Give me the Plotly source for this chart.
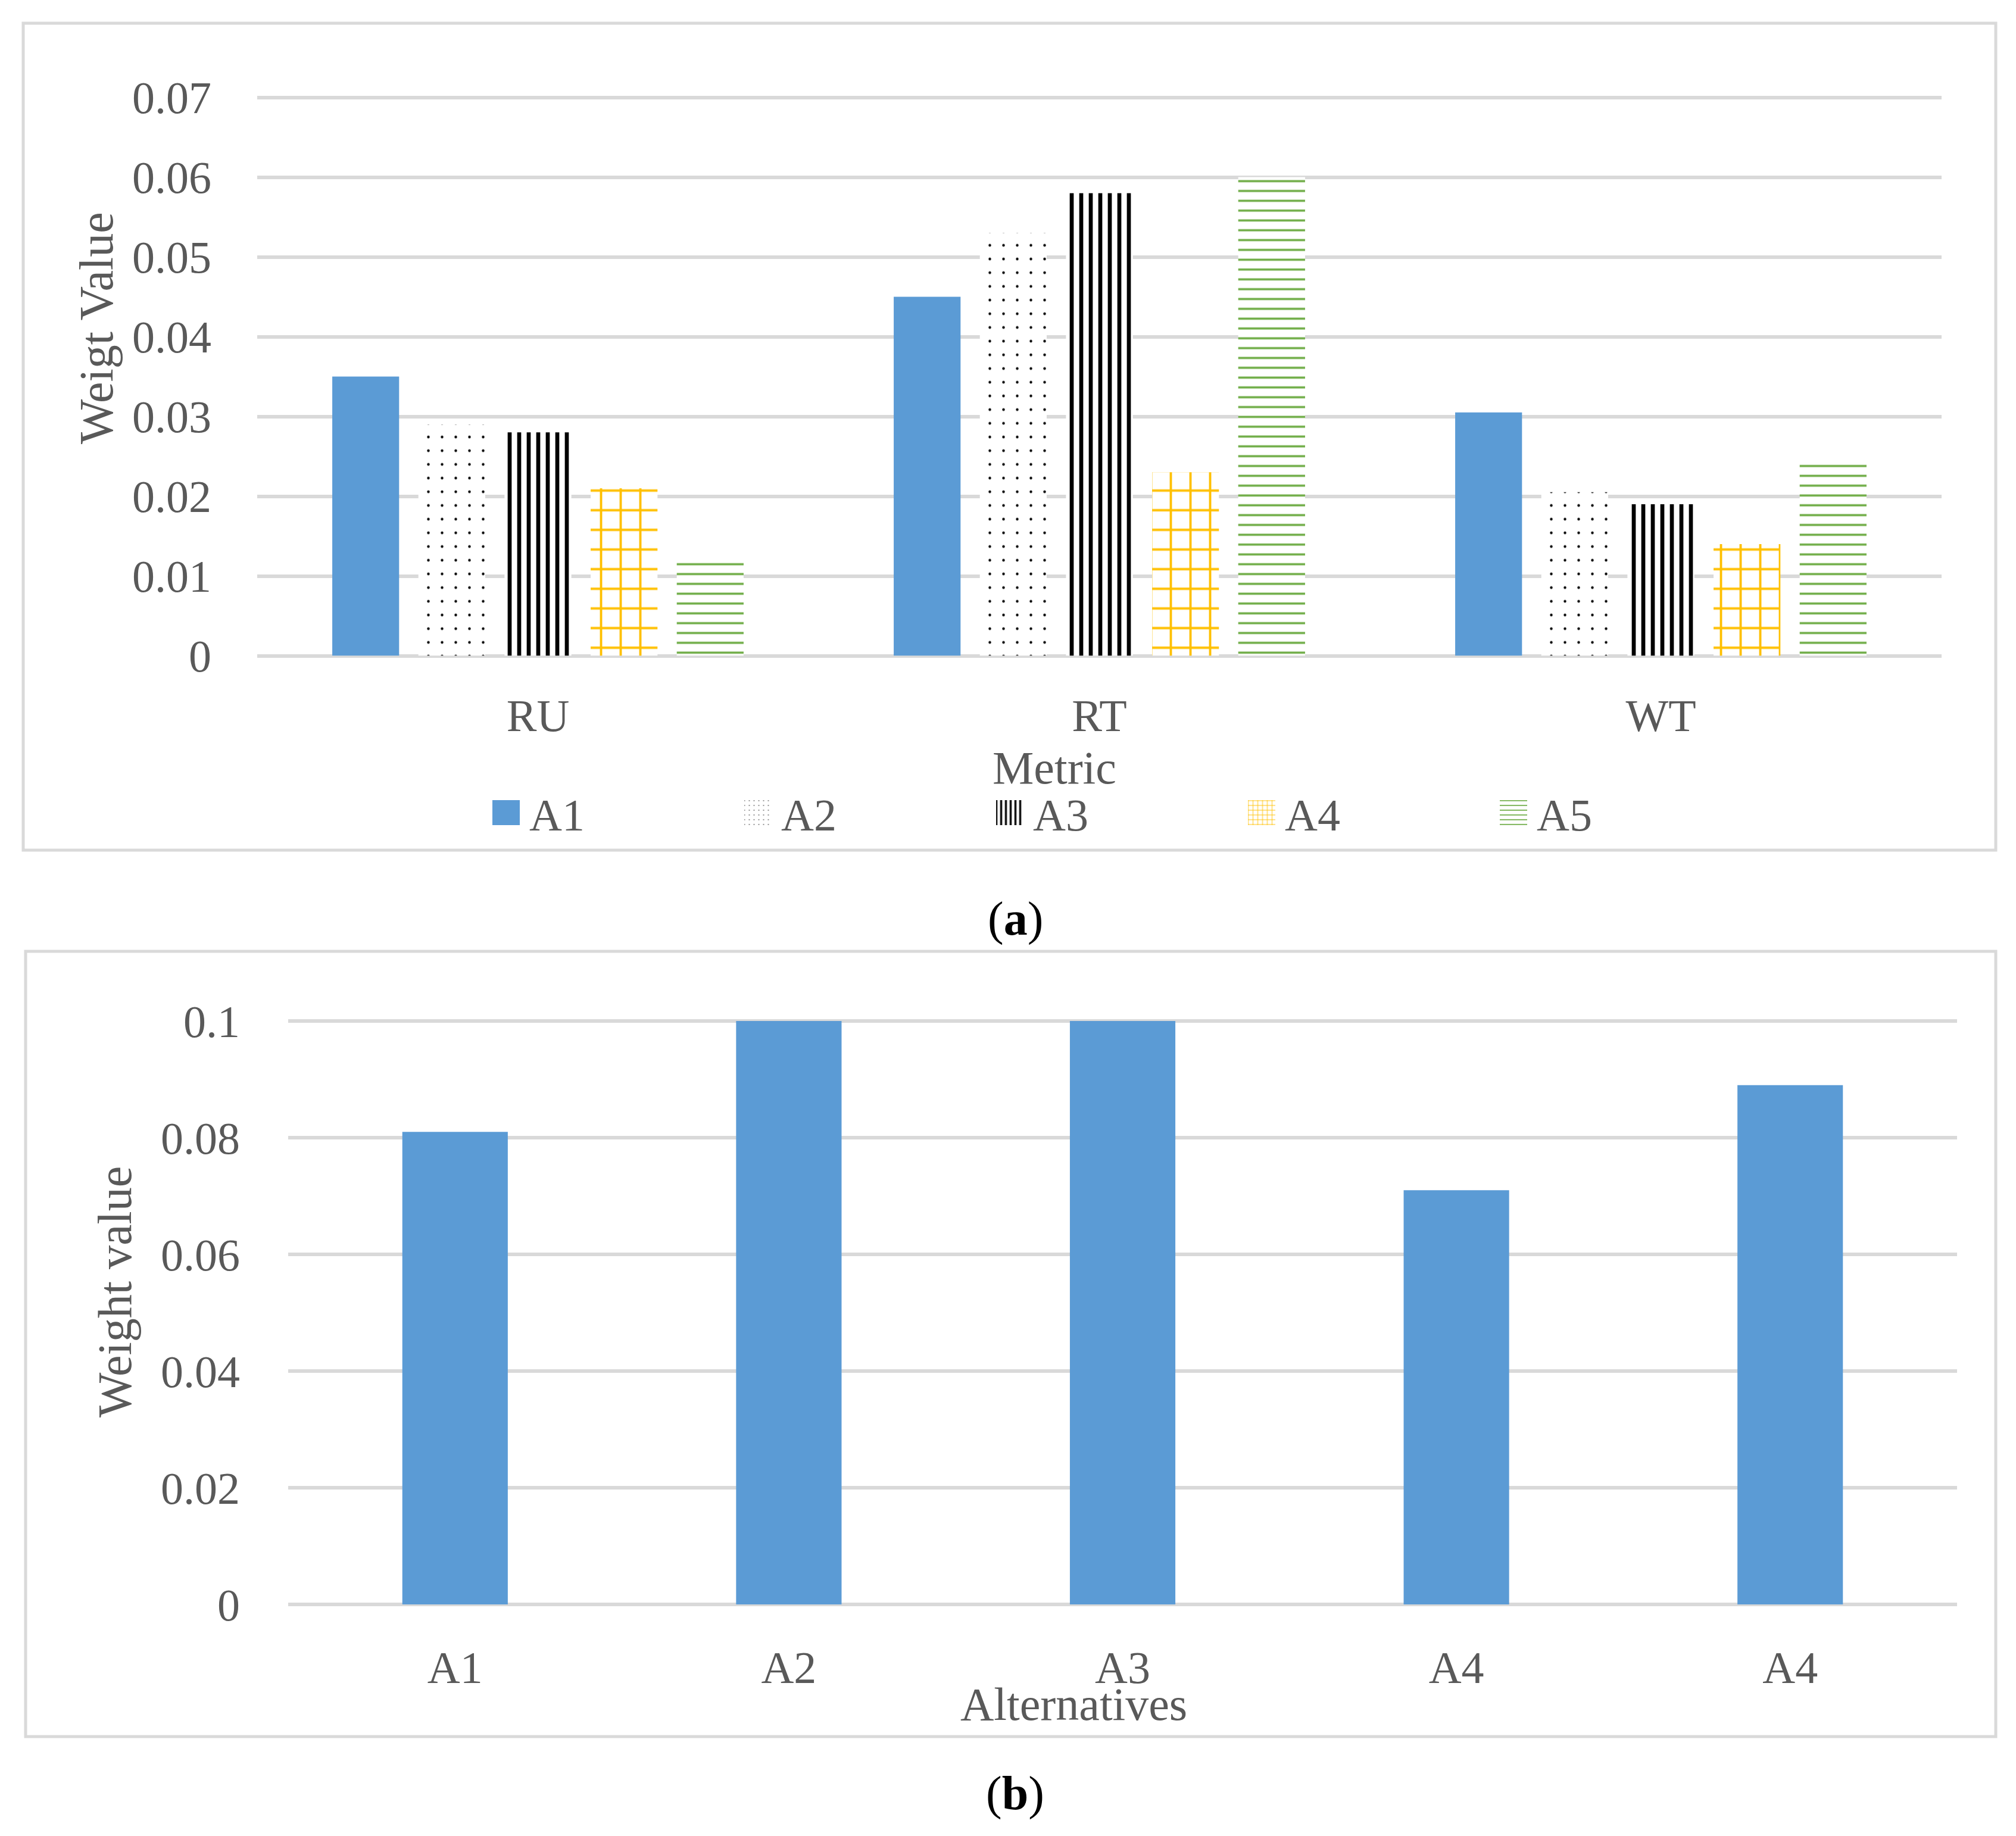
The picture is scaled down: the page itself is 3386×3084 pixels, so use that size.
import plotly.graph_objects as go

# ---------------- data ----------------
metrics = ["RU", "RT", "WT"]
series_names = ["A1", "A2", "A3", "A4", "A5"]
a1_vals = [0.035, 0.045, 0.0305]
a2_vals = [0.029, 0.053, 0.0205]
a3_vals = [0.028, 0.058, 0.019]
a4_vals = [0.021, 0.023, 0.014]
a5_vals = [0.012, 0.060, 0.024]

alt_labels = ["A1", "A2", "A3", "A4", "A4"]
alt_values = [0.081, 0.100, 0.100, 0.071, 0.089]

a_ytick_vals = [0, 0.01, 0.02, 0.03, 0.04, 0.05, 0.06, 0.07]
a_ytick_text = ["0", "0.01", "0.02", "0.03", "0.04", "0.05", "0.06", "0.07"]
b_ytick_vals = [0, 0.02, 0.04, 0.06, 0.08, 0.1]
b_ytick_text = ["0", "0.02", "0.04", "0.06", "0.08", "0.1"]

# ---------------- styling ----------------
W, H = 3386, 3084
FONT = "Liberation Serif"
TXT = "#595959"
GRID = "#D9D9D9"
BLUE = "#5B9BD5"
YELLOW = "#FFC000"
GREEN = "#70AD47"

def pat(shape, color, size, solidity):
    return dict(shape=shape, fgcolor=color, size=size, solidity=solidity,
                fillmode="overlay", fgopacity=1)

series_vals = [a1_vals, a2_vals, a3_vals, a4_vals, a5_vals]
series_style = [
    dict(color=BLUE),
    dict(color="white", pattern=pat(".", "black", 23, 0.03)),
    dict(color="white", pattern=pat("|", "black", 16, 0.42)),
    dict(color="white", pattern=pat("+", YELLOW, 33, 0.22)),
    dict(color="white", pattern=pat("-", GREEN, 16.5, 0.22)),
]

fig = go.Figure()
for name, vals, st in zip(series_names, series_vals, series_style):
    fig.add_trace(go.Bar(x=metrics, y=vals, name=name, marker=dict(line=dict(width=0), **st),
                         xaxis="x", yaxis="y"))

alt_pos = list(range(len(alt_labels)))
fig.add_trace(go.Bar(x=alt_pos, y=alt_values, marker=dict(color=BLUE, line=dict(width=0)),
                     width=0.316, showlegend=False, xaxis="x2", yaxis="y2"))

axis_font = dict(family=FONT, size=76, color=TXT)

# plot-area geometry (pixels from top-left of the figure)
A_TOP_07, A_ZERO = 163.6, 1101.5        # pixel rows of 0.07 and 0 in panel (a)
B_TOP_10, B_ZERO = 1715.0, 2695.0       # pixel rows of 0.1 and 0 in panel (b)
a_top_val, b_top_val = 0.0712, 0.1015
a_top_px = A_ZERO - (A_ZERO - A_TOP_07) * a_top_val / 0.07
b_top_px = B_ZERO - (B_ZERO - B_TOP_10) * b_top_val / 0.1

fig.update_layout(
    width=W, height=H, autosize=False,
    margin=dict(l=0, r=0, t=0, b=0, autoexpand=False),
    paper_bgcolor="white", plot_bgcolor="white",
    barmode="group", bargap=0.233, bargroupgap=0.224,
    font=dict(family=FONT, size=76, color=TXT),
    xaxis=dict(domain=[432 / W, 3261 / W], anchor="y", showgrid=False, zeroline=False, showline=False,
               ticks="", tickfont=axis_font, ticklabelstandoff=49, automargin=False, fixedrange=True),
    yaxis=dict(domain=[1 - A_ZERO / H, 1 - a_top_px / H], anchor="x", range=[0, a_top_val],
               tickvals=a_ytick_vals, ticktext=a_ytick_text, tickfont=axis_font,
               showgrid=True, gridcolor=GRID, gridwidth=6, zeroline=True, zerolinecolor=GRID,
               zerolinewidth=6, showline=False, ticks="", ticklabelstandoff=76, automargin=False),
    xaxis2=dict(domain=[484 / W, 3287 / W], anchor="y2", range=[-0.5, len(alt_labels) - 0.5],
                tickvals=alt_pos, ticktext=alt_labels, tickfont=axis_font, showgrid=False,
                zeroline=False, showline=False, ticks="", ticklabelstandoff=55, automargin=False),
    yaxis2=dict(domain=[1 - B_ZERO / H, 1 - b_top_px / H], anchor="x2", range=[0, b_top_val],
                tickvals=b_ytick_vals, ticktext=b_ytick_text, tickfont=axis_font,
                showgrid=True, gridcolor=GRID, gridwidth=6, zeroline=True, zerolinecolor=GRID,
                zerolinewidth=6, showline=False, ticks="", ticklabelstandoff=80, automargin=False),
    legend=dict(orientation="h", x=822 / W, xanchor="left", y=1 - 1365 / H, yanchor="middle",
                font=dict(family=FONT, size=76, color=TXT), itemwidth=57,
                entrywidth=351, entrywidthmode="pixels", bgcolor="rgba(0,0,0,0)",
                traceorder="normal", itemclick=False, itemdoubleclick=False),
    shapes=[
        dict(type="rect", xref="paper", yref="paper", x0=39 / W, x1=3352 / W, y0=1 - 1428 / H, y1=1 - 39 / H,
             line=dict(color=GRID, width=5), fillcolor="rgba(0,0,0,0)", layer="below"),
        dict(type="rect", xref="paper", yref="paper", x0=43 / W, x1=3352 / W, y0=1 - 2917 / H, y1=1 - 1598 / H,
             line=dict(color=GRID, width=5), fillcolor="rgba(0,0,0,0)", layer="below"),
    ],
    annotations=[
        dict(text="Weigt Value", xref="paper", yref="paper", x=162 / W, y=1 - 551 / H, textangle=-90,
             showarrow=False, xanchor="center", yanchor="middle", font=dict(family=FONT, size=80, color=TXT)),
        dict(text="Metric", xref="paper", yref="paper", x=1771 / W, y=1 - 1289 / H,
             showarrow=False, xanchor="center", yanchor="middle", font=dict(family=FONT, size=78, color=TXT)),
        dict(text="(<b>a</b>)", xref="paper", yref="paper", x=1705 / W, y=1 - 1543 / H,
             showarrow=False, xanchor="center", yanchor="middle", font=dict(family=FONT, size=80, color="black")),
        dict(text="Weight value", xref="paper", yref="paper", x=193 / W, y=1 - 2170 / H, textangle=-90,
             showarrow=False, xanchor="center", yanchor="middle", font=dict(family=FONT, size=80, color=TXT)),
        dict(text="Alternatives", xref="paper", yref="paper", x=1803 / W, y=1 - 2862 / H,
             showarrow=False, xanchor="center", yanchor="middle", font=dict(family=FONT, size=78, color=TXT)),
        dict(text="(<b>b</b>)", xref="paper", yref="paper", x=1705 / W, y=1 - 3012 / H,
             showarrow=False, xanchor="center", yanchor="middle", font=dict(family=FONT, size=80, color="black")),
    ],
)

post_js = """
document.body.style.margin = '0';
var gd = document.getElementsByClassName('plotly-graph-div')[0];
function bigIcons(){
  gd.querySelectorAll('.legendpoints path').forEach(function(p){
    p.setAttribute('d', 'M17.5,21H-28.5V-21H17.5Z');
  });
}
bigIcons();
gd.on('plotly_afterplot', bigIcons);
"""

fig.write_html("out.html", config={"displayModeBar": False}, post_script=post_js)
